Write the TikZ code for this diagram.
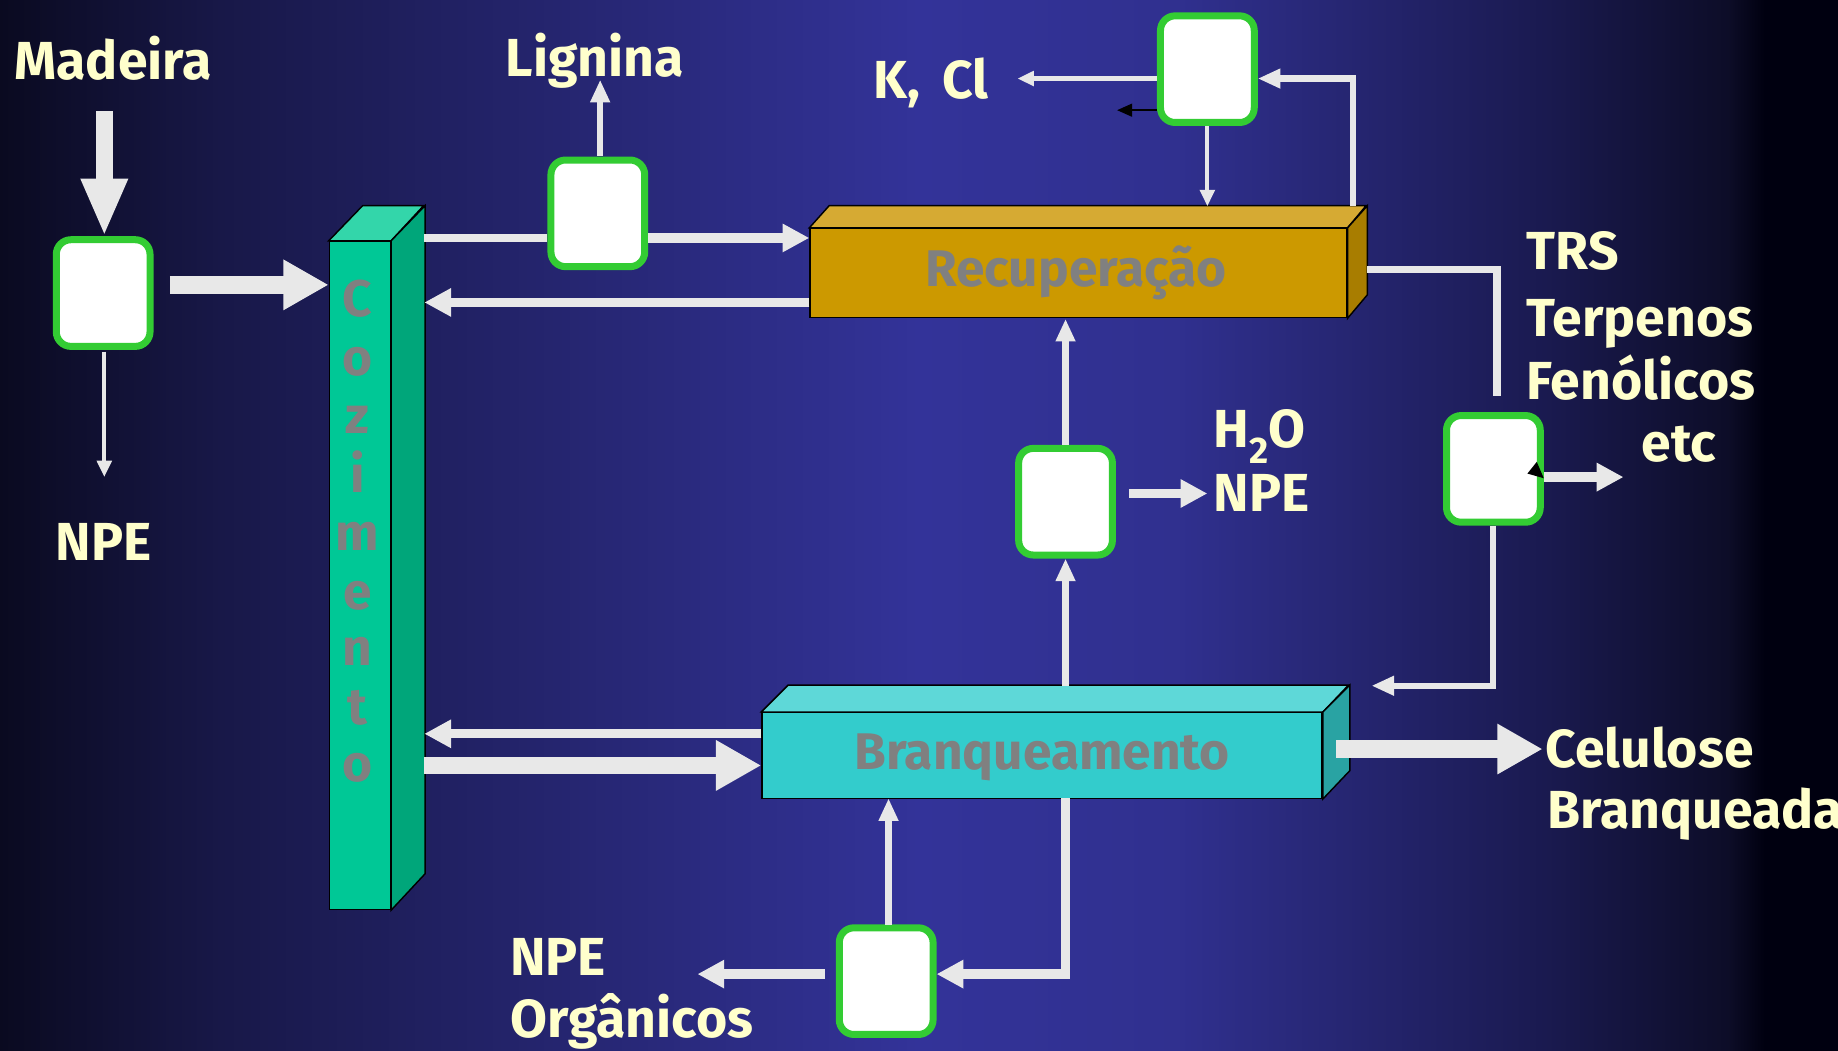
\documentclass[tikz,border=0pt]{standalone}
\usepackage{fontspec}
\setmainfont{Fira Sans}
\usetikzlibrary{arrows.meta,calc}
\definecolor{arrowgray}{HTML}{E8E8E8}
\definecolor{boxgreen}{HTML}{33CC33}
\definecolor{txtyellow}{HTML}{FFFFCC}
\definecolor{cozF}{HTML}{00C896}
\definecolor{cozT}{HTML}{33D6AA}
\definecolor{cozS}{HTML}{00A67A}
\definecolor{recF}{HTML}{CC9900}
\definecolor{recT}{HTML}{D6AA33}
\definecolor{recS}{HTML}{A87D00}
\definecolor{brF}{HTML}{33CCCC}
\definecolor{brT}{HTML}{5ED8D8}
\definecolor{brS}{HTML}{29A3A3}
\definecolor{bg0}{HTML}{0A0A20}
\definecolor{bg1}{HTML}{181848}
\definecolor{bg2}{HTML}{333399}
\definecolor{bg3}{HTML}{30308F}
\definecolor{bg4}{HTML}{1A1A50}
\definecolor{bg5}{HTML}{0D0D28}
\definecolor{bg6}{HTML}{000010}
\pgfdeclarehorizontalshading{bgshade}{100bp}{color(0bp)=(bg0); color(25bp)=(bg0); color(31bp)=(bg1); color(50bp)=(bg2); color(57bp)=(bg3); color(67bp)=(bg4); color(72bp)=(bg5); color(73bp)=(bg6); color(75bp)=(bg6); color(100bp)=(bg6)}
\tikzset{
  gbox/.style={draw=boxgreen, line width=3.4pt, fill=white, rounded corners=0.25cm,
    minimum width=1.6cm, minimum height=1.82cm, inner sep=0pt},
  face/.style={draw=black, line width=0.7pt},
  lbl/.style={text=txtyellow, font=\fontsize{26}{28}\selectfont\bfseries, inner sep=0pt},
  glbl/.style={text=gray, font=\fontsize{25}{28}\selectfont\bfseries, inner sep=0pt},
  bigarrow/.style={draw=arrowgray, line width=8.5pt, -{Triangle[length=22pt,width=23pt,fill=arrowgray]}},
  bigarrowv/.style={draw=arrowgray, line width=8pt, -{Triangle[length=28pt,width=21pt,fill=arrowgray]}},
  midarrow/.style={draw=arrowgray, line width=4.5pt, -{Triangle[length=13pt,width=13pt,fill=arrowgray]}},
  smallarrow/.style={draw=arrowgray, line width=3pt, -{Triangle[length=11pt,width=9pt,fill=arrowgray]}},
  thinarrow/.style={draw=arrowgray, line width=2pt, -{Triangle[length=8pt,width=7pt,fill=arrowgray]}},
  flowline/.style={draw=arrowgray, line width=3.5pt},
  blackarrow/.style={draw=black, line width=0.8pt, -{Triangle[length=7.3pt,width=6.3pt]}},
}
\begin{document}
\begin{tikzpicture}[x=0.02cm, y=-0.02cm]
\useasboundingbox (0,0) rectangle (1568,896);
\shade[shading=bgshade] (0,0) rectangle (1568,896);

% 3D blocks
\node[face, fill=cozF, minimum width=1.04cm, minimum height=11.4cm, inner sep=0pt] (coz) at (307,491) {};
\draw[face, fill=cozT] (coz.north west) -- ++(29,-30) -- ++(52,0) -- (coz.north east) -- cycle;
\draw[face, fill=cozS] (coz.north east) -- ++(29,-30) -- ++(0,570) -- (coz.south east) -- cycle;
\foreach \ch/\yy in {C/270, o/320, z/370, i/420, m/470, e/520, n/568, t/618, o/667}
  \node[glbl, anchor=base] at (305,\yy) {\ch};

\node[face, fill=recF, minimum width=9.16cm, minimum height=1.52cm, inner sep=0pt] (rec) at (920,233) {};
\node[glbl] (rectxt) at (918,233) {Recuperação};
\draw[face, fill=recT] (rec.north west) -- ++(17,-19) -- ++(458,0) -- (rec.north east) -- cycle;
\draw[face, fill=recS] (rec.north east) -- ++(17,-19) -- ++(0,76) -- (rec.south east) -- cycle;

\node[face, fill=brF, minimum width=9.56cm, minimum height=1.46cm, inner sep=0pt] (br) at (889,644.5) {};
\node[glbl] (brtxt) at (889,646) {Branqueamento};
\draw[face, fill=brT] (br.north west) -- ++(23,-23) -- ++(478,0) -- (br.north east) -- cycle;
\draw[face, fill=brS] (br.north east) -- ++(23,-23) -- ++(0,73) -- (br.south east) -- cycle;

% green boxes
\node[gbox] (bA) at (88,250) {};
\node[gbox] (bB) at (510,182) {};
\node[gbox] (bC) at (1030,59) {};
\node[gbox] (bD) at (909,428) {};
\node[gbox] (bE) at (1274,400) {};
\node[gbox] (bF) at (756,837) {};

% labels
\node[lbl, anchor=base west] (tMad) at (12,68) {Madeira};
\node[lbl, anchor=base west] (tLig) at (431,65) {Lignina};
\node[lbl, anchor=base west] (tKCl) at (745,84) {K,\, Cl};
\node[lbl, anchor=base west] (tNPE1) at (47,478) {NPE};
\node[lbl, anchor=base west] (tTRS) at (1302,230) {TRS};
\node[lbl, anchor=base west] (tTer) at (1302,287) {Terpenos};
\node[lbl, anchor=base west] (tFen) at (1302,341) {Fenólicos};
\node[lbl, anchor=base west] (tEtc) at (1400,394) {etc};
\node[lbl, anchor=base west] (tH2O) at (1035,382) {H\raisebox{-0.3em}{\fontsize{18}{18}\selectfont 2}O};
\node[lbl, anchor=base west] (tNPE2) at (1035,436) {NPE};
\node[lbl, anchor=base west] (tCel) at (1318,655) {Celulose};
\node[lbl, anchor=base west] (tBrq) at (1320,707) {Branqueada};
\node[lbl, anchor=base west] (tNPE3) at (435,832) {NPE};
\node[lbl, anchor=base west] (tOrg) at (435,885) {Orgânicos};

% connectors
\coordinate (madIn) at (89,95);
\draw[bigarrowv] (madIn) -- (madIn |- bA.north);
\draw[bigarrow] (145,243) -- (coz.west |- 0,243);
\draw[thinarrow] (89,300) -- (89,407);
\draw[flowline] (362,203) -- (bB.west |- 0,203);
\draw[midarrow] (bB.east |- 0,203) -- (rec.west |- 0,203);
\draw[smallarrow] (512,133) -- (512,68);
\draw[midarrow] (rec.west |- 0,258) -- (362,258);
\draw[thinarrow] (bC.west |- 0,67) -- (868,67);
\draw[blackarrow] (bC.west |- 0,94) -- (953,94);
\draw[thinarrow] (bC.south) -- (1030,176);
\draw[smallarrow] (1154,176) -- (1154,67) -- (bC.east |- 0,67);
\draw[flowline] (1166,230) -- (1277,230) -- (1277,338);
\draw[midarrow] (bE.east |- 0,407) -- (1385,407);
\fill[black] (1303,404) -- (1311,394) -- (1317,408) -- cycle;
\draw[smallarrow] (bE.south) -- (1274,585) -- (1170,585);
\draw[smallarrow] (909,585) -- (bD.south);
\draw[smallarrow] (bD.north) -- (909,272);
\draw[midarrow] (963,421) -- (1030,421);
\draw[midarrow] (br.west |- 0,626) -- (362,626);
\draw[bigarrow] (362,653) -- (br.west |- 0,653);
\draw[bigarrow] (1140,639) -- (1316,639);
\draw[smallarrow] (758,789) -- (758,681);
\draw[midarrow] (909,681) -- (909,831) -- (bF.east |- 0,831);
\draw[midarrow] (704,831) -- (595,831);
\end{tikzpicture}
\end{document}
